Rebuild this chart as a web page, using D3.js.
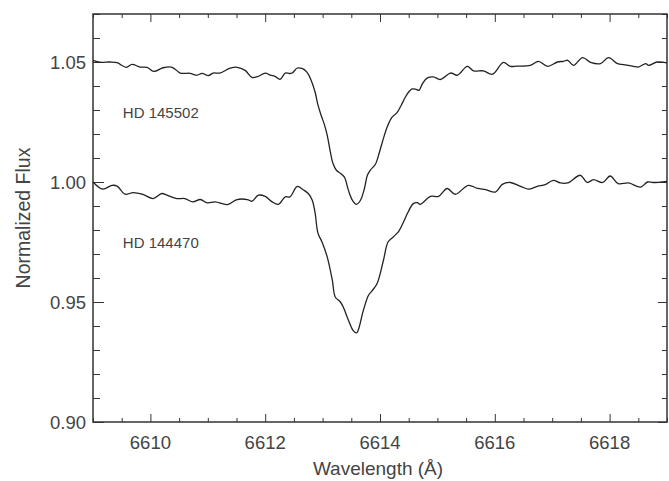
<!DOCTYPE html>
<html>
<head>
<meta charset="utf-8">
<script src="https://cdn.jsdelivr.net/npm/d3@7"></script>
<style>
    body { margin: 0; background: #fff; }
    text { font-family: "Liberation Sans", Arial, Helvetica, sans-serif; fill: #444; }
</style>
</head>
<body>
<svg width="669" height="481"></svg>
<script>
// Star names for the two spectra
const starNames = ['HD 145502', 'HD 144470'];

// HD 145502 (upper spectrum)
const wave145502 = [6609.00, 6609.12, 6609.30, 6609.42, 6609.58, 6609.68, 6609.82, 6609.94, 6610.06, 6610.22,
    6610.38, 6610.52, 6610.69, 6610.81, 6610.90, 6611.01, 6611.09, 6611.21, 6611.39, 6611.51,
    6611.65, 6611.77, 6611.88, 6612.00, 6612.09, 6612.17, 6612.26, 6612.35, 6612.42, 6612.47,
    6612.56, 6612.64, 6612.73, 6612.80, 6612.87, 6612.92, 6612.98, 6613.03, 6613.08, 6613.13,
    6613.18, 6613.24, 6613.31, 6613.38, 6613.45, 6613.52, 6613.59, 6613.66, 6613.73, 6613.78,
    6613.83, 6613.92, 6613.99, 6614.06, 6614.13, 6614.21, 6614.30, 6614.37, 6614.44, 6614.51,
    6614.56, 6614.63, 6614.68, 6614.74, 6614.82, 6614.93, 6615.05, 6615.23, 6615.35, 6615.52,
    6615.63, 6615.80, 6615.96, 6616.15, 6616.27, 6616.39, 6616.62, 6616.76, 6616.92, 6617.09,
    6617.20, 6617.27, 6617.37, 6617.53, 6617.67, 6617.84, 6617.98, 6618.14, 6618.24, 6618.42,
    6618.50, 6618.63, 6618.68, 6618.83, 6619.00];
const flux145502 = [1.0507, 1.0499, 1.0500, 1.0497, 1.0478, 1.0490, 1.0479, 1.0478, 1.0461, 1.0476,
    1.0478, 1.0454, 1.0453, 1.0445, 1.0453, 1.0443, 1.0454, 1.0454, 1.0474, 1.0478,
    1.0465, 1.0436, 1.0440, 1.0454, 1.0445, 1.0440, 1.0428, 1.0454, 1.0452, 1.0454,
    1.0475, 1.0473, 1.0457, 1.0424, 1.0374, 1.0320, 1.0274, 1.0240, 1.0195, 1.0132,
    1.0078, 1.0049, 1.0036, 1.0020, 0.9965, 0.9924, 0.9907, 0.9924, 0.9974, 1.0028,
    1.0049, 1.0074, 1.0124, 1.0182, 1.0232, 1.0270, 1.0290, 1.0320, 1.0353, 1.0378,
    1.0388, 1.0386, 1.0382, 1.0410, 1.0433, 1.0438, 1.0427, 1.0454, 1.0445, 1.0482,
    1.0463, 1.0463, 1.0449, 1.0498, 1.0482, 1.0483, 1.0486, 1.0503, 1.0482, 1.0500,
    1.0503, 1.0507, 1.0486, 1.0518, 1.0498, 1.0493, 1.0518, 1.0493, 1.0489, 1.0482,
    1.0479, 1.0493, 1.0486, 1.0500, 1.0496];

// HD 144470 (lower spectrum)
const wave144470 = [6609.00, 6609.17, 6609.33, 6609.42, 6609.56, 6609.70, 6609.87, 6610.05, 6610.20, 6610.29,
    6610.46, 6610.60, 6610.74, 6610.87, 6610.99, 6611.13, 6611.34, 6611.51, 6611.69, 6611.77,
    6611.88, 6612.00, 6612.12, 6612.23, 6612.35, 6612.43, 6612.56, 6612.66, 6612.75, 6612.82,
    6612.87, 6612.92, 6612.99, 6613.08, 6613.17, 6613.22, 6613.31, 6613.36, 6613.45, 6613.53,
    6613.59, 6613.62, 6613.71, 6613.80, 6613.86, 6613.95, 6614.06, 6614.14, 6614.23, 6614.32,
    6614.41, 6614.49, 6614.58, 6614.65, 6614.70, 6614.88, 6615.02, 6615.17, 6615.31, 6615.54,
    6615.70, 6615.84, 6616.01, 6616.13, 6616.27, 6616.45, 6616.59, 6616.74, 6616.88, 6617.02,
    6617.14, 6617.27, 6617.49, 6617.61, 6617.72, 6617.88, 6618.01, 6618.15, 6618.33, 6618.54,
    6618.66, 6618.76, 6619.00];
const flux144470 = [1.0000, 0.9970, 0.9986, 0.9983, 0.9949, 0.9956, 0.9948, 0.9931, 0.9952, 0.9945,
    0.9931, 0.9931, 0.9917, 0.9927, 0.9913, 0.9917, 0.9906, 0.9927, 0.9927, 0.9920,
    0.9945, 0.9940, 0.9917, 0.9907, 0.9938, 0.9938, 0.9982, 0.9968, 0.9952, 0.9924,
    0.9870, 0.9786, 0.9750, 0.9688, 0.9590, 0.9521, 0.9500, 0.9479, 0.9424, 0.9382,
    0.9371, 0.9382, 0.9465, 0.9528, 0.9546, 0.9577, 0.9674, 0.9750, 0.9771, 0.9792,
    0.9833, 0.9875, 0.9910, 0.9914, 0.9907, 0.9940, 0.9940, 0.9973, 0.9949, 0.9986,
    0.9973, 0.9968, 0.9958, 0.9990, 0.9998, 0.9982, 0.9970, 0.9982, 0.9989, 1.0007,
    0.9996, 0.9996, 1.0028, 0.9998, 1.0010, 0.9998, 1.0025, 0.9993, 0.9996, 0.9979,
    1.0000, 0.9998, 1.0003];

// Tick labels
const xTickLabels = [6610, 6612, 6614, 6616, 6618];
const yTickLabels = [0.90, 0.95, 1.00, 1.05];

// Plot box
const svg = d3.select('svg');
const margin = {top: 14, right: 2, bottom: 59, left: 93};
const width = 669 - margin.left - margin.right;
const height = 481 - margin.top - margin.bottom;

const x = d3.scaleLinear().domain([6609, 6619]).range([0, width]);
const y = d3.scaleLinear().domain([0.90, 1.07]).range([height, 0]);

const g = svg.append('g').attr('transform', `translate(${margin.left},${margin.top})`);

// Minor tick values (every 0.5 A, every 0.01 flux)
const xMinor = d3.range(6609, 6619.01, 0.5).filter(v => !xTickLabels.includes(v));
const yMinor = d3.range(0, 18).map(i => +(0.90 + i * 0.01).toFixed(2)).filter(v => !yTickLabels.some(t => Math.abs(t - v) < 1e-6));

// Draws one set of ticks on one side
function ticks(axisFn, scale, values, size, labels, transform) {
    const a = g.append('g')
        .attr('transform', transform)
        .call(axisFn(scale).tickValues(values).tickSize(size).tickSizeOuter(0)
            .tickFormat(labels ? labels : ''));
    a.select('.domain').remove();
    a.selectAll('line').attr('stroke', '#333').attr('stroke-width', 1);
    return a;
}

// Bottom / top axes
ticks(d3.axisTop, x, xTickLabels, 8, null, `translate(0,${height})`);
ticks(d3.axisTop, x, xMinor, 4, null, `translate(0,${height})`);
ticks(d3.axisBottom, x, xTickLabels, 8, null, 'translate(0,0)');
ticks(d3.axisBottom, x, xMinor, 4, null, 'translate(0,0)');

// Left / right axes
ticks(d3.axisRight, y, yTickLabels, 11, null, 'translate(0,0)');
ticks(d3.axisRight, y, yMinor, 7, null, 'translate(0,0)');
ticks(d3.axisLeft, y, yTickLabels, 9, null, `translate(${width},0)`);
ticks(d3.axisLeft, y, yMinor, 5, null, `translate(${width},0)`);

// Tick labels
g.selectAll('.xlab').data(xTickLabels).enter().append('text')
    .attr('x', d => x(d))
    .attr('y', height + 27)
    .attr('text-anchor', 'middle')
    .style('font-size', '18.5px')
    .text(d => d);

g.selectAll('.ylab').data(yTickLabels).enter().append('text')
    .attr('x', -7)
    .attr('y', d => y(d))
    .attr('dy', '0.36em')
    .attr('text-anchor', 'end')
    .style('font-size', '18.5px')
    .text(d => d.toFixed(2));

// Frame
g.append('rect')
    .attr('width', width)
    .attr('height', height)
    .attr('fill', 'none')
    .attr('stroke', '#333')
    .attr('stroke-width', 1.5);

// Spectra
const line = d3.line()
    .x(d => x(d[0]))
    .y(d => y(d[1]))
    .curve(d3.curveCatmullRom.alpha(0.5));

[[wave145502, flux145502], [wave144470, flux144470]].forEach(([w, f]) => {
    g.append('path')
        .datum(w.map((v, i) => [v, f[i]]))
        .attr('d', line)
        .attr('fill', 'none')
        .attr('stroke', '#222')
        .attr('stroke-width', 1.3);
});

// Star labels
g.append('text').attr('x', x(6609.52)).attr('y', y(1.0267)).style('font-size', '15px').text(starNames[0]);
g.append('text').attr('x', x(6609.52)).attr('y', y(0.9725)).style('font-size', '15px').text(starNames[1]);

// Axis titles
svg.append('text')
    .attr('x', margin.left + width / 2 - 2)
    .attr('y', 475)
    .attr('text-anchor', 'middle')
    .style('font-size', '19px')
    .text('Wavelength (Å)');

svg.append('text')
    .attr('transform', 'translate(30,218) rotate(-90)')
    .attr('text-anchor', 'middle')
    .style('font-size', '19.5px')
    .text('Normalized Flux');
</script>
</body>
</html>
